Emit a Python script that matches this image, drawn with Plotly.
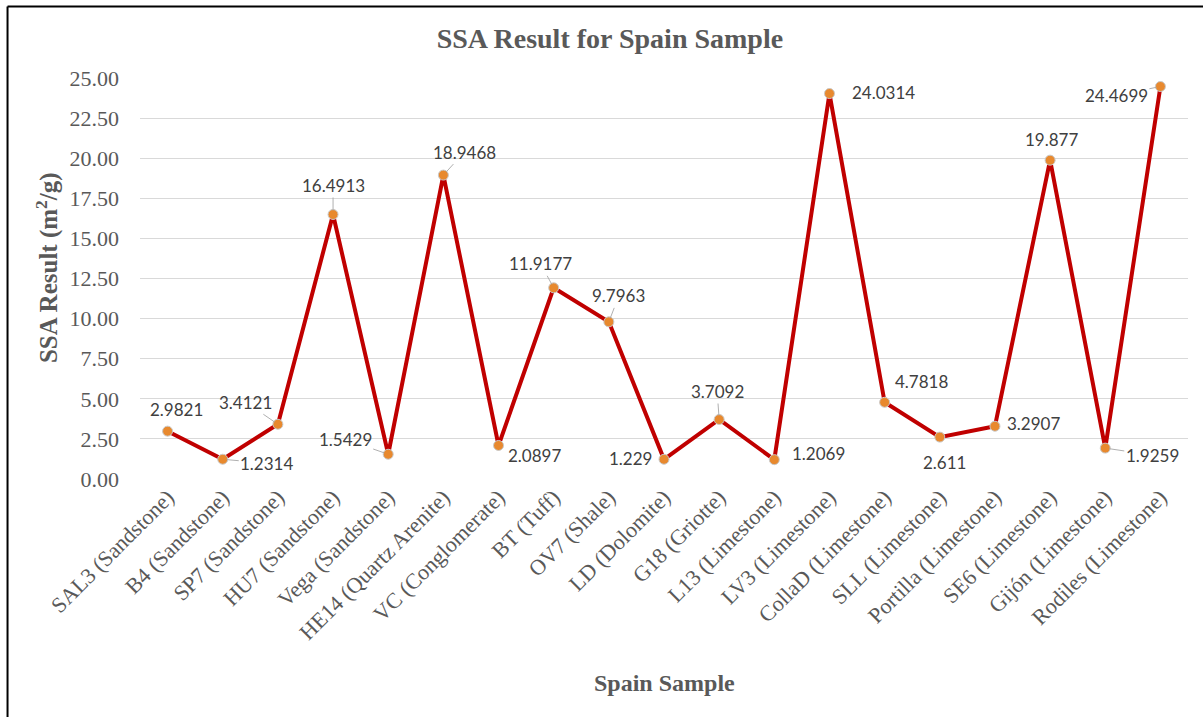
import plotly.graph_objects as go

# Samples and measured specific surface area (m2/g)
samples = [
    "SAL3 (Sandstone)", "B4 (Sandstone)", "SP7 (Sandstone)", "HU7 (Sandstone)",
    "Vega (Sandstone)", "HE14 (Quartz Arenite)", "VC (Conglomerate)", "BT (Tuff)",
    "OV7 (Shale)", "LD (Dolomite)", "G18 (Griotte)", "L13 (Limestone)",
    "LV3 (Limestone)", "CollaD (Limestone)", "SLL (Limestone)", "Portilla (Limestone)",
    "SE6 (Limestone)", "Gijón (Limestone)", "Rodiles (Limestone)",
]
ssa_values = [
    2.9821, 1.2314, 3.4121, 16.4913, 1.5429, 18.9468, 2.0897, 11.9177, 9.7963,
    1.229, 3.7092, 1.2069, 24.0314, 4.7818, 2.611, 3.2907, 19.877, 1.9259, 24.4699,
]
y_ticks = [0, 2.5, 5, 7.5, 10, 12.5, 15, 17.5, 20, 22.5, 25]

# Data-label placement (pixel offsets from each point) and leader-line flags
label_dx = [9, 44, -32, 0, -43, 21, 36, -13, 10, -34, -2, 44, 54, 37, 5, 39, 1, 47, -44]
label_dy = [-22, 4, -22, -29, -15, -23, 10, -24, -26, -1, -28, -6, -1, -21, 25, -3, -21, 7, 9]
leader = [False, True, True, True, True, True, False, True, True, False,
          True, False, False, False, False, False, False, True, True]

SERIF = "Liberation Serif, Times New Roman, serif"
LABEL_FONT = dict(family="Lato, Calibri, sans-serif", size=17, color="#404040")

fig = go.Figure()
fig.add_trace(go.Scatter(
    x=samples, y=ssa_values, mode="lines+markers",
    line=dict(color="#C00000", width=4),
    marker=dict(size=10, color="#E8892E", line=dict(color="#C9C9C9", width=1)),
    showlegend=False, hoverinfo="x+y",
))

annotations = []
for name, v, dx, dy, has_line in zip(samples, ssa_values, label_dx, label_dy, leader):
    if has_line:
        annotations.append(dict(
            x=name, y=v, xref="x", yref="y", text=str(v), font=LABEL_FONT,
            showarrow=True, arrowhead=0, arrowwidth=0.9, arrowcolor="#A6A6A6",
            ax=dx, ay=dy, standoff=4,
        ))
    else:
        annotations.append(dict(
            x=name, y=v, xref="x", yref="y", text=str(v), font=LABEL_FONT,
            showarrow=False, xshift=dx, yshift=-dy,
        ))

# Axis titles
annotations.append(dict(
    text="SSA Result (m<sup>2</sup>/g)", textangle=-90,
    x=-0.0887, y=0.526, xref="paper", yref="paper", showarrow=False,
    xanchor="center", yanchor="middle",
    font=dict(family=SERIF, size=25, color="#595959", weight="bold"),
))
annotations.append(dict(
    text="Spain Sample", x=0.5, y=-0.509, xref="paper", yref="paper", showarrow=False,
    xanchor="center", yanchor="middle",
    font=dict(family=SERIF, size=24, color="#595959", weight="bold"),
))

# Chart frame (left and top edges)
shapes = [
    dict(type="line", xref="paper", yref="paper", x0=-0.1264, x1=-0.1264, y0=-0.62, y1=1.1783,
         line=dict(color="black", width=2)),
    dict(type="line", xref="paper", yref="paper", x0=-0.1264, x1=1.03, y0=1.1783, y1=1.1783,
         line=dict(color="black", width=2)),
]

fig.update_layout(
    width=1203, height=717,
    margin=dict(l=140, r=15, t=78, b=238, autoexpand=False),
    paper_bgcolor="white", plot_bgcolor="white",
    title=dict(text="<b>SSA Result for Spain Sample</b>", x=0.507, xref="container",
               xanchor="center", y=1 - 38 / 717, yanchor="middle",
               font=dict(family=SERIF, size=28, color="#595959")),
    xaxis=dict(
        type="category", range=[-0.5, len(samples) - 0.5], tickangle=-45,
        tickfont=dict(family=SERIF, size=22, color="#595959"),
        showgrid=False, showline=False, ticks="", zeroline=False,
    ),
    yaxis=dict(
        range=[0, 25], tickvals=y_ticks, tickformat=".2f",
        tickfont=dict(family=SERIF, size=22, color="#595959"),
        showgrid=True, gridcolor="#D9D9D9", gridwidth=1, zeroline=False,
        showline=False, ticks="", ticklabelstandoff=20,
    ),
    annotations=annotations, shapes=shapes,
)

fig.write_html("out.html")
